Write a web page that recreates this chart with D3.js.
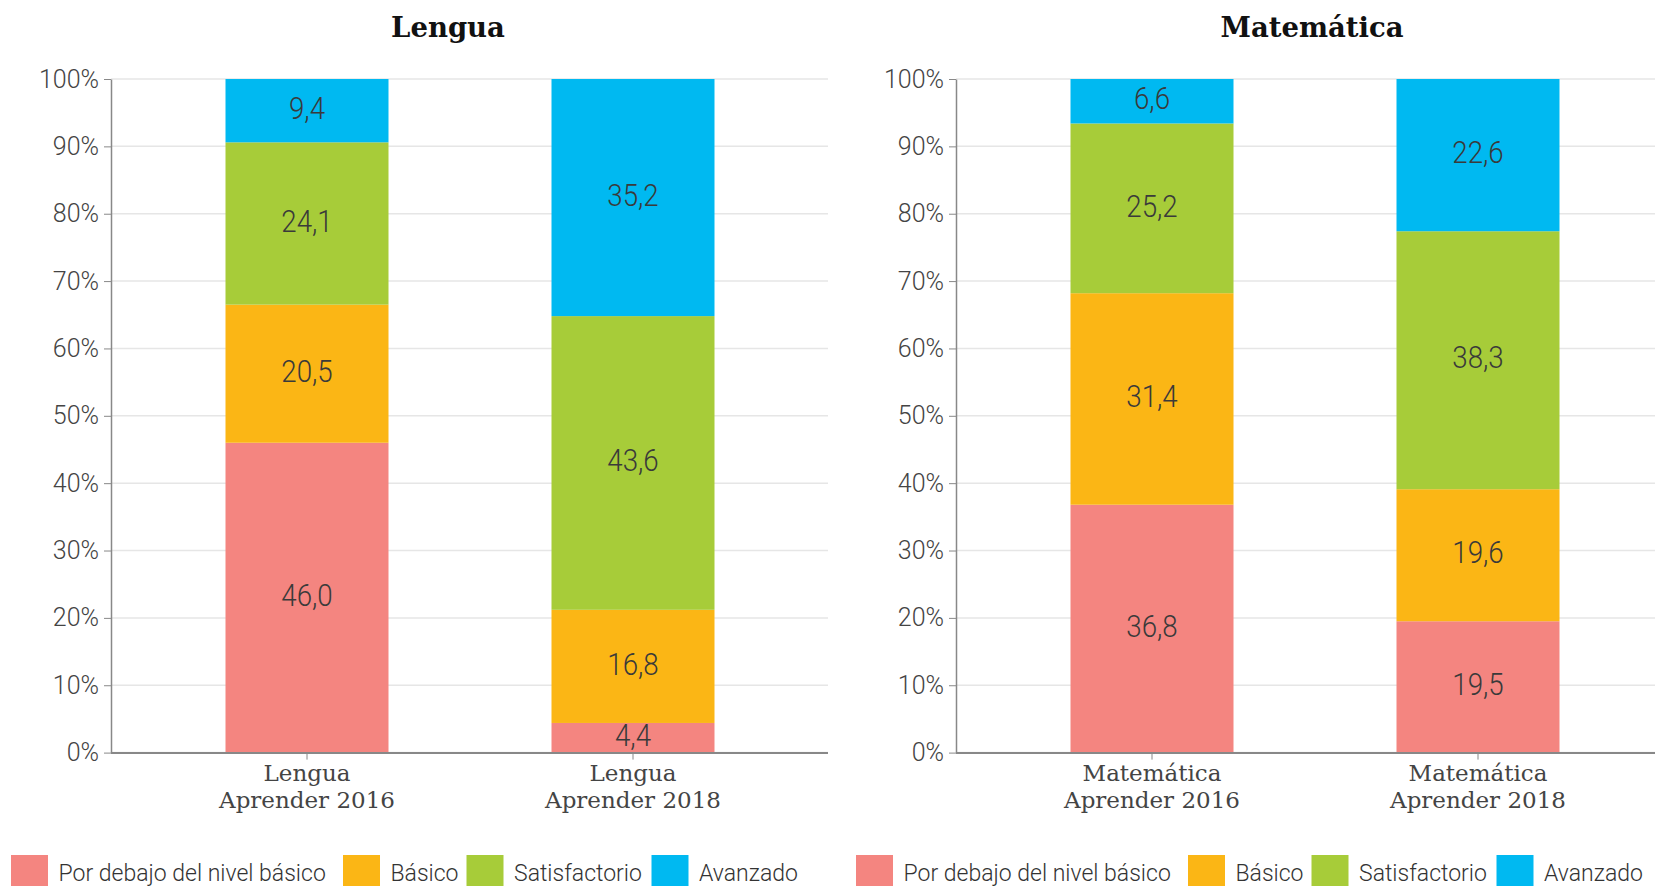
<!DOCTYPE html>
<html><head><meta charset="utf-8">
<script src="https://cdn.jsdelivr.net/npm/d3@7"></script>
<style>
body{margin:0;background:#fff;}
svg{display:block;}
</style></head>
<body>
<svg id="chart" width="1655" height="886"></svg>
<script>
// ---- data ----
const levels = ["Por debajo del nivel básico", "Básico", "Satisfactorio", "Avanzado"];
const levelColors = ["#F48580", "#FBB615", "#A7CC39", "#00B9F1"];
const yTicks = [0, 10, 20, 30, 40, 50, 60, 70, 80, 90, 100];

const lenguaCategories = ["Lengua\nAprender 2016", "Lengua\nAprender 2018"];
const lenguaBelow = [46.0, 4.4];
const lenguaBasic = [20.5, 16.8];
const lenguaSatisf = [24.1, 43.6];
const lenguaAdvanced = [9.4, 35.2];

const mateCategories = ["Matemática\nAprender 2016", "Matemática\nAprender 2018"];
const mateBelow = [36.8, 19.5];
const mateBasic = [31.4, 19.6];
const mateSatisf = [25.2, 38.3];
const mateAdvanced = [6.6, 22.6];

const panels = [
  {title: "Lengua", cats: lenguaCategories, series: [lenguaBelow, lenguaBasic, lenguaSatisf, lenguaAdvanced], x0: 111, tx: 448},
  {title: "Matemática", cats: mateCategories, series: [mateBelow, mateBasic, mateSatisf, mateAdvanced], x0: 956, tx: 1312}
];

const svg = d3.select("#chart");
const yTop = 79, yBot = 752.6, plotW = 717;
const y = d3.scaleLinear().domain([0, 100]).range([yBot, yTop]);
const fmt = v => d3.format(".1f")(v).replace(".", ",");

panels.forEach(p => {
  const g = svg.append("g");
  const x = d3.scaleBand().domain(p.cats).range([p.x0 + 33, p.x0 + 685]).paddingInner(0.5).paddingOuter(0.25);
  // gridlines
  g.append("g").selectAll("line").data(yTicks).join("line")
    .attr("x1", p.x0).attr("x2", p.x0 + plotW)
    .attr("y1", d => y(d)).attr("y2", d => y(d))
    .attr("stroke", "#e6e6e6").attr("stroke-width", 1.5);
  // y axis
  const ya = g.append("g").attr("transform", `translate(${p.x0},0)`)
    .call(d3.axisLeft(y).tickValues(yTicks).tickFormat(d => d + "%").tickSize(7).tickSizeOuter(0));
  ya.select(".domain").attr("stroke", "#888").attr("stroke-width", 1.5);
  ya.selectAll(".tick line").attr("stroke", "#888");
  ya.selectAll(".tick text").attr("font-family", "Roboto").attr("font-weight", 300)
    .attr("font-size", 25).attr("fill", "#444").attr("x", -12);

  // stacked data
  const rows = p.cats.map((c, i) => {
    const r = {cat: c};
    levels.forEach((l, k) => r[l] = p.series[k][i]);
    return r;
  });
  const stacked = d3.stack().keys(levels)(rows);
  const layer = g.append("g").selectAll("g").data(stacked).join("g")
    .attr("fill", (d, i) => levelColors[i]);
  layer.selectAll("rect").data(d => d).join("rect")
    .attr("x", d => x(d.data.cat)).attr("width", x.bandwidth())
    .attr("y", d => y(d[1])).attr("height", d => y(d[0]) - y(d[1]));
  layer.selectAll("text").data(d => d).join("text")
    .attr("transform", d => `translate(${x(d.data.cat) + x.bandwidth() / 2},${y((d[0] + d[1]) / 2)}) scale(0.88,1)`)
    .attr("dy", "0.26em").attr("text-anchor", "middle")
    .attr("font-family", "Roboto").attr("font-weight", 300).attr("font-size", 31.5)
    .attr("fill", "#3a3a3a")
    .text(d => fmt(d[1] - d[0]));

  // x axis
  const xa = g.append("g").attr("transform", `translate(0,${yBot})`)
    .call(d3.axisBottom(x).tickSize(7).tickSizeOuter(0).tickFormat(""));
  xa.select(".domain").attr("d", `M${p.x0},0.5H${p.x0 + plotW}`).attr("stroke", "#888").attr("stroke-width", 2);
  xa.selectAll(".tick line").attr("stroke", "#888");
  xa.selectAll(".tick").append("text")
    .attr("font-family", "DejaVu Serif").attr("font-size", 23).attr("fill", "#444")
    .attr("text-anchor", "middle")
    .selectAll("tspan").data(d => d.split("\n")).join("tspan")
    .attr("x", 0).attr("y", (d, i) => 28.5 + i * 27).text(d => d);

  // title
  svg.append("text").attr("x", p.tx).attr("y", 37).attr("text-anchor", "middle")
    .attr("font-family", "DejaVu Serif").attr("font-weight", "bold").attr("font-size", 27.5)
    .attr("fill", "#111").text(p.title);

  // legend
  const lg = svg.append("g").attr("transform", `translate(${p.x0 - 100},0)`);
  const lx = [0, 332, 455.5, 640.5];
  const items = lg.selectAll("g").data(levels).join("g")
    .attr("transform", (d, i) => `translate(${lx[i]},855)`);
  items.append("rect").attr("width", 37).attr("height", 33).attr("fill", (d, i) => levelColors[i]);
  items.append("text").attr("x", 47.5).attr("y", 26).attr("font-family", "Roboto").attr("font-weight", 300)
    .attr("font-size", 23).attr("fill", "#333").text(d => d);
});
</script>
</body></html>
